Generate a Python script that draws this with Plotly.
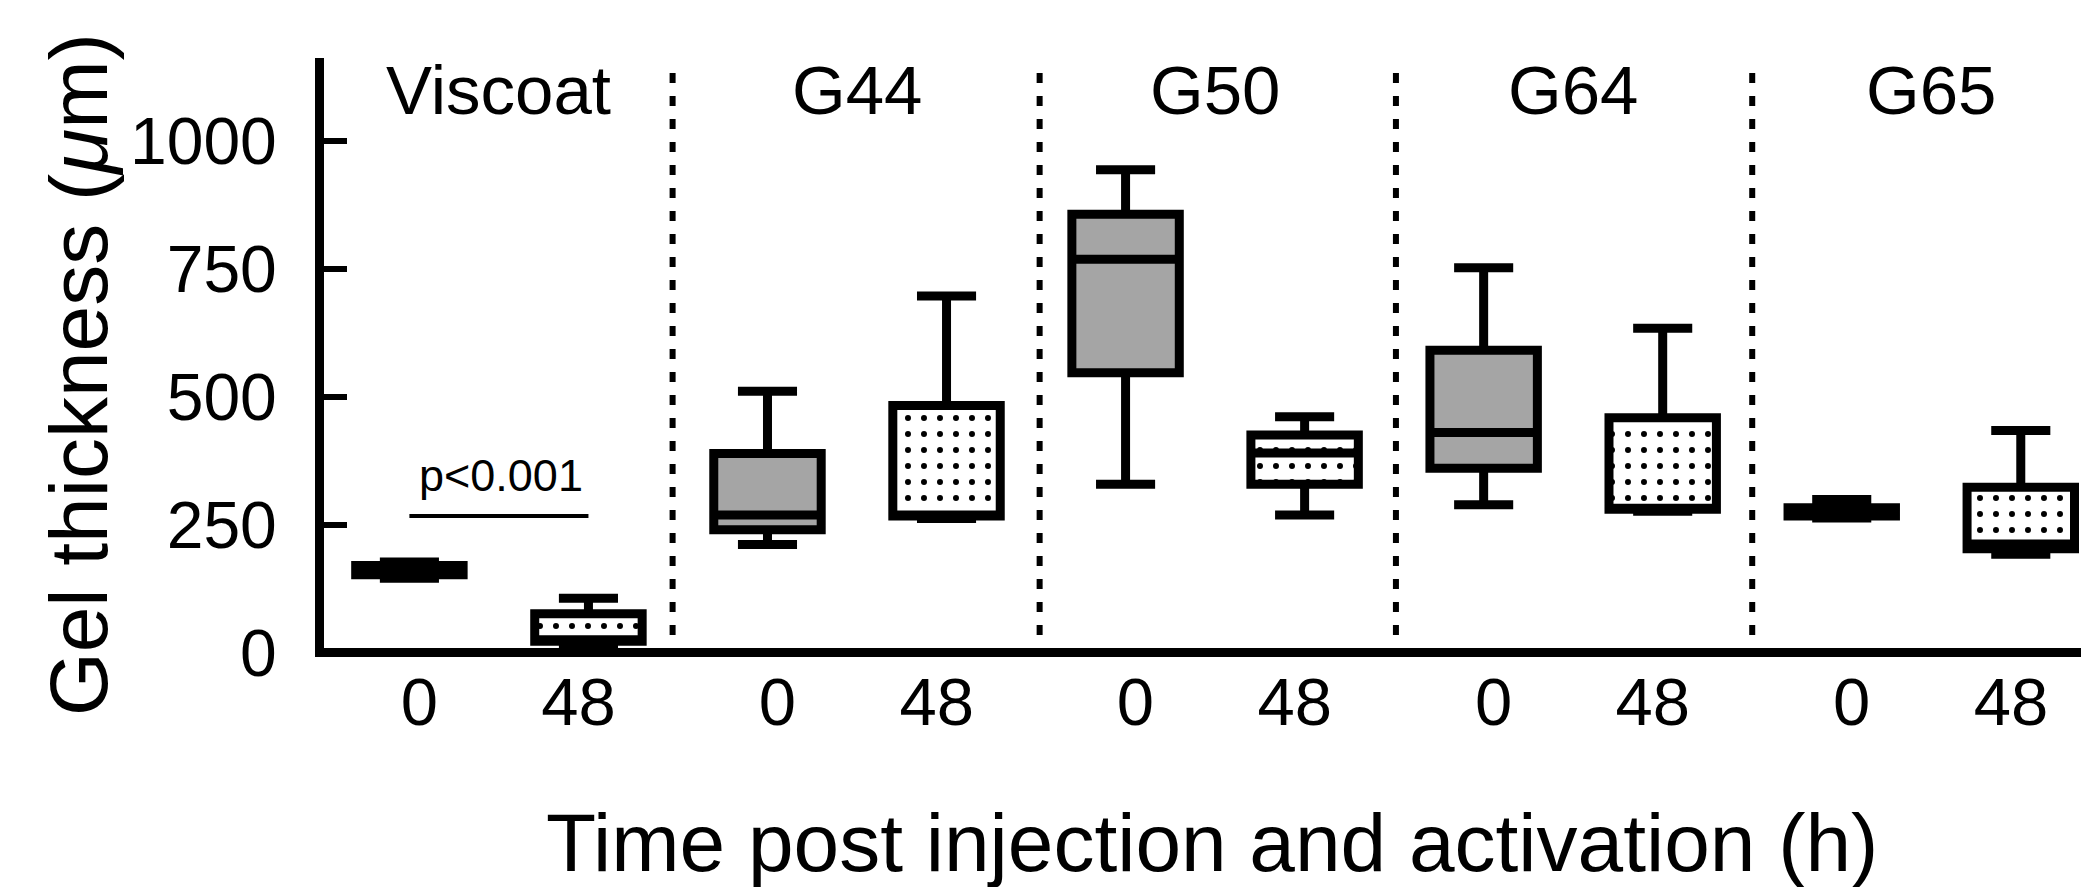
import plotly.graph_objects as go

# ---- data ----
groups = ["Viscoat", "G44", "G50", "G64", "G65"]
times = ["0", "48"]

# 0 h boxes (grey)
lf_0 = [145, 211, 329, 289, 263]
q1_0 = [152, 240, 547, 360, 267]
med_0 = [161, 269, 769, 430, 275]
q3_0 = [170, 389, 857, 591, 283]
uf_0 = [177, 511, 944, 752, 299]

# 48 h boxes (dotted)
lf_48 = [9, 262, 269, 276, 192]
q1_48 = [22, 267, 329, 280, 203]
med_48 = [25, 269, 390, 282, 212]
q3_48 = [76, 483, 425, 459, 323]
uf_48 = [106, 697, 461, 634, 434]

y_ticks = [0, 250, 500, 750, 1000]
separators = [1.47, 3.52, 5.51, 7.5]
p_text = "p<0.001"
p_y = 267

FONT = "Liberation Sans, Arial, Helvetica, sans-serif"
TICK_INSET = 0.055  # labels sit slightly toward the group centre in the original

pos_0 = [2 * i for i in range(len(groups))]
pos_48 = [2 * i + 1 for i in range(len(groups))]

fig = go.Figure()

# dotted fill of the 48 h boxes
fig.add_trace(go.Bar(
    x=pos_48,
    base=q1_48,
    y=[b - a for a, b in zip(q1_48, q3_48)],
    width=0.6,
    marker=dict(color="white", line=dict(width=0),
                pattern=dict(shape=".", fgcolor="black", bgcolor="white",
                             size=16, solidity=0.11, fillmode="replace")),
    showlegend=False, hoverinfo="skip",
))

fig.add_trace(go.Box(
    x=pos_0, q1=q1_0, median=med_0, q3=q3_0, lowerfence=lf_0, upperfence=uf_0,
    width=0.6, whiskerwidth=0.55, fillcolor="#a5a5a5",
    line=dict(color="black", width=9), boxpoints=False, showlegend=False,
))
fig.add_trace(go.Box(
    x=pos_48, q1=q1_48, median=med_48, q3=q3_48, lowerfence=lf_48, upperfence=uf_48,
    width=0.6, whiskerwidth=0.55, fillcolor="rgba(0,0,0,0)",
    line=dict(color="black", width=9), boxpoints=False, showlegend=False,
))

shapes = []
for s in separators:
    shapes.append(dict(type="line", xref="x", yref="y", x0=s, x1=s, y0=34, y1=1148,
                       line=dict(color="black", width=6, dash="10px,13px"), layer="below"))
# x axis line at y = 0
shapes.append(dict(type="line", xref="paper", yref="y", x0=0, x1=1, y0=0, y1=0,
                   line=dict(color="black", width=9), layer="above"))
# significance bar
shapes.append(dict(type="line", xref="x", yref="y", x0=0, x1=1, y0=p_y, y1=p_y,
                   line=dict(color="black", width=4)))

annotations = []
for i, g in enumerate(groups):
    annotations.append(dict(text=g, x=2 * i + 0.5, y=1098, xref="x", yref="y",
                            showarrow=False, xanchor="center", yanchor="middle",
                            font=dict(size=69, color="black", family=FONT)))
annotations.append(dict(text=p_text, x=0.51, y=347, xref="x", yref="y", showarrow=False,
                        xanchor="center", yanchor="middle",
                        font=dict(size=45, color="black", family=FONT)))
annotations.append(dict(text="Gel thickness (<i>μ</i>m)", x=-0.1395, y=0.472,
                        xref="paper", yref="paper", textangle=-90, showarrow=False,
                        xanchor="center", yanchor="middle",
                        font=dict(size=82, color="black", family=FONT)))
annotations.append(dict(text="Time post injection and activation (h)", x=0.503, y=-0.31,
                        xref="paper", yref="paper", showarrow=False,
                        xanchor="center", yanchor="middle",
                        font=dict(size=82, color="black", family=FONT)))

tick_pos = [p + TICK_INSET for p in pos_0] + [p - TICK_INSET for p in pos_48]
tick_txt = [times[0]] * len(pos_0) + [times[1]] * len(pos_48)

fig.update_layout(
    width=2089, height=887,
    margin=dict(l=316, r=8, t=50, b=238, pad=0),
    paper_bgcolor="white", plot_bgcolor="white",
    boxmode="overlay", showlegend=False,
    font=dict(family=FONT, color="black"),
    shapes=shapes, annotations=annotations,
    xaxis=dict(range=[-0.477, 9.381], tickmode="array",
               tickvals=tick_pos, ticktext=tick_txt,
               showline=False, showgrid=False, zeroline=False, ticks="",
               tickfont=dict(size=67, color="black", family=FONT)),
    yaxis=dict(range=[-8.8, 1162.3], tickmode="array", tickvals=y_ticks,
               showline=True, linewidth=9, linecolor="black",
               ticks="inside", ticklen=23, tickwidth=6, tickcolor="black",
               ticklabelstandoff=25,
               showgrid=False, zeroline=False,
               tickfont=dict(size=66, color="black", family=FONT)),
)

fig.write_html("out.html")
